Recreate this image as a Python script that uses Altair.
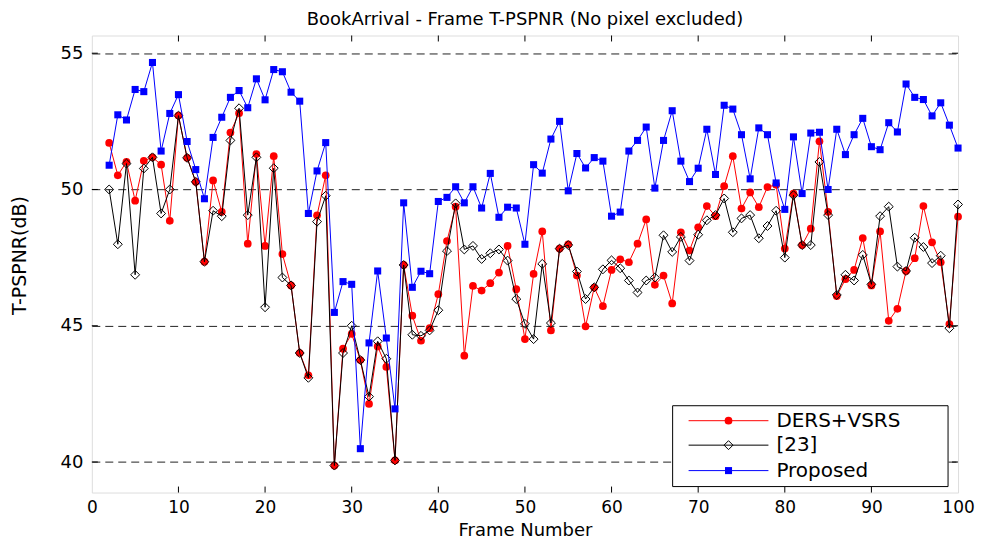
import altair as alt
import pandas as pd

frames = list(range(2, 101))

ders_vsrs = [51.71, 50.52, 51.01, 49.59, 51.05, 51.18, 50.91, 48.85, 52.71, 51.16,
             50.28, 47.35, 50.33, 49.18, 52.09, 52.80, 48.01, 51.30, 47.93, 51.22,
             47.63, 46.48, 44.00, 43.18, 49.05, 50.52, 39.87, 44.16, 44.70, 43.74,
             42.13, 44.24, 43.49, 40.06, 47.23, 45.37, 44.45, 44.91, 46.16, 48.11,
             49.37, 43.90, 46.46, 46.29, 46.56, 46.95, 47.93, 46.34, 44.51, 46.90,
             48.46, 44.83, 47.83, 47.99, 46.84, 44.98, 46.40, 45.72, 47.05, 47.44,
             47.33, 48.01, 48.90, 46.50, 46.84, 45.82, 48.43, 47.76, 48.61, 49.39,
             49.02, 50.12, 51.22, 49.30, 49.89, 49.35, 50.09, 50.17, 47.83, 49.85,
             47.96, 48.56, 51.77, 49.18, 46.09, 46.71, 47.05, 48.22, 46.48, 48.46,
             45.18, 45.62, 47.01, 47.48, 49.39, 48.06, 47.33, 45.06, 49.00]

ref23 = [50.00, 47.99, 50.95, 46.87, 50.77, 51.18, 49.12, 50.00, 52.71, 51.16,
         50.28, 47.35, 49.22, 49.02, 51.80, 52.98, 49.06, 51.18, 45.68, 50.78,
         46.77, 46.48, 44.00, 43.09, 48.82, 49.77, 39.87, 44.00, 45.00, 43.74,
         42.40, 44.43, 43.79, 40.06, 47.23, 44.67, 44.63, 44.83, 45.57, 47.74,
         49.49, 47.80, 47.93, 47.45, 47.66, 47.80, 47.39, 45.98, 45.07, 44.51,
         47.27, 45.10, 47.83, 47.96, 46.99, 45.98, 46.41, 47.07, 47.40, 47.11,
         46.66, 46.22, 46.66, 46.77, 48.32, 47.71, 48.26, 47.39, 48.34, 48.87,
         49.06, 49.67, 48.43, 48.94, 49.06, 48.21, 48.66, 49.22, 47.50, 49.79,
         47.96, 47.96, 51.01, 49.06, 46.13, 46.87, 46.66, 47.60, 46.52, 49.02,
         49.37, 47.17, 47.01, 48.23, 47.89, 47.30, 47.57, 44.91, 49.45]

proposed = [50.89, 52.74, 52.55, 53.67, 53.59, 54.66, 51.41, 52.79, 53.48, 51.76,
            50.73, 49.66, 51.91, 52.65, 53.38, 53.63, 53.00, 54.06, 53.29, 54.40,
            54.32, 53.57, 53.24, 49.12, 50.68, 51.72, 45.49, 46.62, 46.52, 40.49,
            44.37, 47.01, 44.55, 41.95, 49.51, 46.41, 47.00, 46.91, 49.56, 49.71,
            50.10, 49.51, 50.10, 49.32, 50.59, 48.98, 49.35, 49.32, 47.99, 50.91,
            50.60, 51.85, 52.50, 49.95, 51.32, 50.79, 51.17, 51.04, 49.02, 49.17,
            51.41, 51.80, 52.29, 50.05, 51.80, 52.89, 51.04, 50.29, 50.78, 52.21,
            50.55, 53.09, 52.95, 52.01, 50.39, 52.26, 52.01, 50.24, 49.27, 51.93,
            49.85, 52.07, 52.10, 50.00, 52.21, 51.28, 52.01, 52.61, 51.57, 51.46,
            52.45, 52.11, 53.87, 53.38, 53.30, 52.70, 53.18, 52.36, 51.52]

series_names = ["DERS+VSRS", "[23]", "Proposed"]
x_tick_values = [0, 10, 20, 30, 40, 50, 60, 70, 80, 90, 100]
y_tick_values = [40, 45, 50, 55]

FONT = "DejaVu Sans"
W, H = 868, 458

xscale = alt.Scale(domain=[0, 100], nice=False, zero=False)
yscale = alt.Scale(domain=[38.88, 55.65], nice=False, zero=False)
xaxis = alt.Axis(values=x_tick_values, title="Frame Number", grid=False, ticks=False,
                 tickSize=0, domain=False, labelPadding=7, labelFont=FONT,
                 labelFontSize=17, labelColor="black", labelFlush=False, titleFont=FONT,
                 titleFontSize=18, titleFontWeight="normal", titleColor="black",
                 titleY=38, titleBaseline="middle")
yaxis = alt.Axis(values=y_tick_values, title="T-PSPNR(dB)", grid=True,
                 gridDash=[8, 5], gridColor="#222", gridWidth=1, ticks=False,
                 tickSize=0, domain=False, labelPadding=9, labelFont=FONT,
                 labelFontSize=18, labelColor="black", labelFlush=False, titleFont=FONT,
                 titleFontSize=19, titleFontWeight="normal", titleColor="black",
                 titleX=-72, titleY=220, titleAngle=270, titleBaseline="middle",
                 titleAlign="center")


def X(field):
    return alt.X(f"{field}:Q", scale=xscale, axis=xaxis)


def Y(field):
    return alt.Y(f"{field}:Q", scale=yscale, axis=yaxis)


styles = {
    "DERS+VSRS": dict(color="#ff0000", shape="circle", filled=True, size=60),
    "[23]": dict(color="#000000", shape="diamond", filled=False, size=80),
    "Proposed": dict(color="#0000ff", shape="square", filled=True, size=50),
}

values_by_series = {"DERS+VSRS": ders_vsrs, "[23]": ref23, "Proposed": proposed}

layers = []
for name in series_names:
    df = pd.DataFrame({"frame": frames, "value": values_by_series[name]})
    st = styles[name]
    line = alt.Chart(df).mark_line(color=st["color"], strokeWidth=1).encode(
        x=X("frame"), y=Y("value"), order="frame:Q")
    if st["filled"]:
        pts = alt.Chart(df).mark_point(shape=st["shape"], filled=True, fill=st["color"],
                                       color=st["color"], size=st["size"], opacity=1,
                                       strokeWidth=0).encode(x=X("frame"), y=Y("value"))
    else:
        pts = alt.Chart(df).mark_point(shape=st["shape"], filled=False, color=st["color"],
                                       size=st["size"], opacity=1, strokeWidth=1).encode(
            x=X("frame"), y=Y("value"))
    layers += [line, pts]

# inward ticks
xt = pd.DataFrame({"frame": x_tick_values[1:-1]})
yt = pd.DataFrame({"value": y_tick_values})
layers.append(alt.Chart(xt).mark_rule(color="black", strokeWidth=1).encode(
    x=X("frame"), y=alt.value(H), y2=alt.value(H - 6)))
layers.append(alt.Chart(xt).mark_rule(color="black", strokeWidth=1).encode(
    x=X("frame"), y=alt.value(0), y2=alt.value(6)))
layers.append(alt.Chart(yt).mark_rule(color="black", strokeWidth=1).encode(
    y=Y("value"), x=alt.value(0), x2=alt.value(6)))
layers.append(alt.Chart(yt).mark_rule(color="black", strokeWidth=1).encode(
    y=Y("value"), x=alt.value(W), x2=alt.value(W - 6)))

# legend box
box = pd.DataFrame({"k": [0]})
layers.append(alt.Chart(box).mark_rect(fill="white", stroke="black", strokeWidth=1).encode(
    x=alt.value(582), x2=alt.value(858), y=alt.value(371), y2=alt.value(452)))
leg_y = [386, 410.5, 436]
for name, yy in zip(series_names, leg_y):
    st = styles[name]
    ldf = pd.DataFrame({"label": [name]})
    layers.append(alt.Chart(ldf).mark_rule(color=st["color"], strokeWidth=1).encode(
        x=alt.value(598), x2=alt.value(678), y=alt.value(yy)))
    if st["filled"]:
        layers.append(alt.Chart(ldf).mark_point(shape=st["shape"], filled=True,
                                                fill=st["color"], size=st["size"],
                                                opacity=1, strokeWidth=0).encode(
            x=alt.value(638), y=alt.value(yy)))
    else:
        layers.append(alt.Chart(ldf).mark_point(shape=st["shape"], filled=False,
                                                color=st["color"], size=st["size"],
                                                opacity=1, strokeWidth=1).encode(
            x=alt.value(638), y=alt.value(yy)))
    layers.append(alt.Chart(ldf).mark_text(align="left", baseline="middle", font=FONT,
                                           fontSize=20, color="black").encode(
        x=alt.value(686), y=alt.value(yy), text="label:N"))

chart = alt.layer(*layers).properties(
    width=W, height=H,
    title=alt.TitleParams("BookArrival - Frame T-PSPNR (No pixel excluded)", font=FONT,
                          fontSize=18, fontWeight="normal", color="black",
                          anchor="middle", offset=6),
    padding={"left": 84, "top": 27, "right": 20, "bottom": 49},
    autosize=alt.AutoSizeParams(type="none"),
).configure_view(stroke="black", strokeWidth=1).configure(background="white")

chart.save("out.html", embed_options={"renderer": "svg", "actions": False})
